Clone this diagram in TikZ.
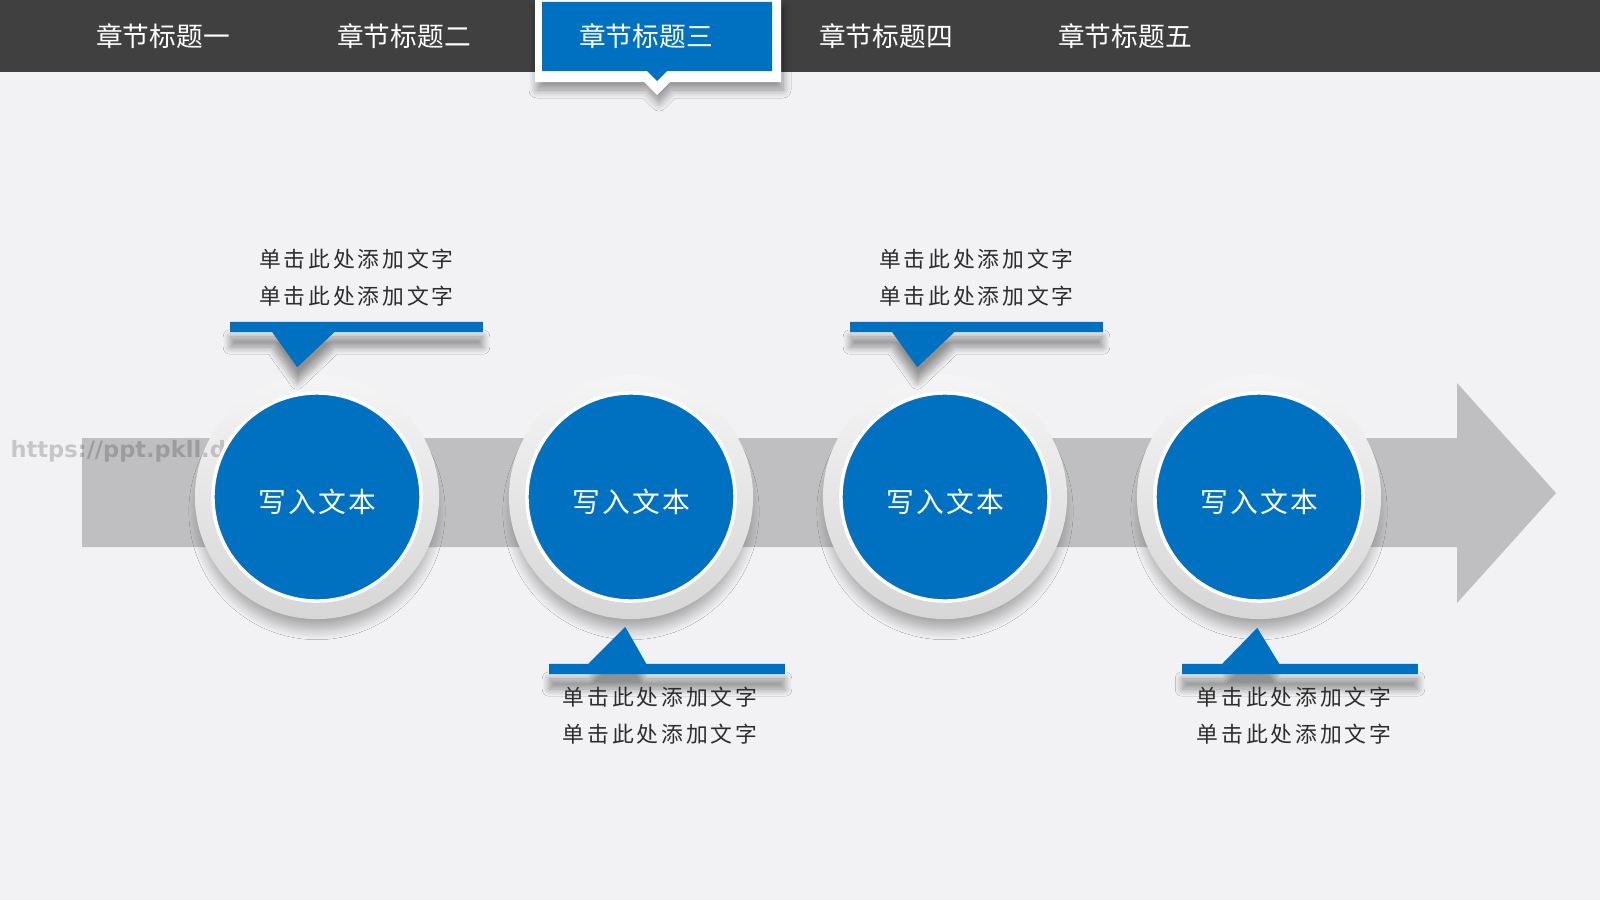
\documentclass[tikz,border=0pt]{standalone}
\usepackage{fontspec}
\usepackage{xcolor}
\usepackage{tikz}
\usetikzlibrary{positioning, calc, shadows.blur}
\newfontfamily\cjkfont{Noto Sans CJK SC}
\newfontfamily\cjkspaced[LetterSpace=13]{Noto Sans CJK SC}
\newfontfamily\cjkcircle[LetterSpace=8]{Noto Sans CJK SC}
\newfontfamily\wmfont{DejaVu Sans}
\definecolor{topbar}{RGB}{64,64,64}
\definecolor{stepblue}{RGB}{0,112,192}
\definecolor{arrowgray}{RGB}{191,191,193}
\definecolor{pagebg}{RGB}{242,242,244}
\definecolor{labeltext}{RGB}{45,45,45}

\begin{document}
\begin{tikzpicture}[
    x=0.01cm, y=-0.01cm,
    tablabel/.style={text=white, inner sep=0, font=\cjkfont\fontsize{7.6}{9}\selectfont},
    halo/.style={circle, minimum size=2.44cm, inner sep=0, top color=black!4, bottom color=black!16,
        blur shadow={shadow xshift=0cm, shadow yshift=-0.15cm, shadow scale=0.97, shadow blur radius=0.1cm,
        shadow blur steps=12, shadow opacity=30}},
    stepcircle/.style={circle, minimum size=2.08cm, inner sep=0, fill=stepblue, draw=white, line width=0.035cm},
    circletext/.style={text=white, inner sep=0, yshift=-0.05cm, font=\cjkcircle\fontsize{7.9}{10}\selectfont},
    calloutbar/.style={rectangle, inner sep=0, fill=stepblue, minimum height=0.09cm},
    callouttext/.style={align=center, inner sep=0, text=labeltext, font=\cjkspaced\fontsize{6.2}{10.5}\selectfont},
    barshadow/.style={blur shadow={shadow xshift=0cm, shadow yshift=-0.15cm, shadow blur radius=0.07cm,
        shadow blur steps=12, shadow opacity=40}},
    wmark/.style={inner sep=0, text=black, text opacity=0.18, font=\wmfont\bfseries\fontsize{6.4}{8}\selectfont}
]
\useasboundingbox (0,0) rectangle (1600,900);
\fill[pagebg] (0,0) rectangle (1600,900);
\fill[topbar] (0,0) rectangle (1600,72);

\node[tablabel] (tab1) at (163,36) {章节标题一};
\node[tablabel] (tab2) at (404,36) {章节标题二};
\node[tablabel] (tab4) at (886,36) {章节标题四};
\node[tablabel] (tab5) at (1125,36) {章节标题五};

\fill[white, blur shadow={shadow xshift=0.02cm, shadow yshift=-0.08cm, shadow blur radius=0.08cm,
    shadow blur steps=10, shadow opacity=40}]
  (535,0) -- (781,0) -- (781,82) -- (670,82) -- (657,95) -- (644,82) -- (535,82) -- cycle;
\fill[stepblue] (542,2) -- (772,2) -- (772,71) -- (667,71) -- (657,81) -- (647,71) -- (542,71) -- cycle;
\node[tablabel] (tab3) at (646,36) {章节标题三};

\fill[arrowgray] (82,438) -- (1457,438) -- (1457,383) -- (1556,493) -- (1457,603) -- (1457,547) -- (82,547) -- cycle;

\node[halo] (h1) at (317,497) {};
\node[halo] (h2) at (631,497) {};
\node[halo] (h3) at (945,497) {};
\node[halo] (h4) at (1259,497) {};

\node[wmark, anchor=base west] (wm) at (10,457) {https://ppt.pkll.de};

\node[stepcircle, label={[circletext]center:写入文本}] (c1) at (317,497) {};
\node[stepcircle, label={[circletext]center:写入文本}] (c2) at (631,497) {};
\node[stepcircle, label={[circletext]center:写入文本}] (c3) at (945,497) {};
\node[stepcircle, label={[circletext]center:写入文本}] (c4) at (1259,497) {};

\node[calloutbar, minimum width=2.51cm] (b1) at (356.5,327) {};
\fill[stepblue, barshadow] (b1.north west) -- (b1.north east) -- (b1.south east) -- ($(b1.south west)+(104,0)$)
  -- ($(b1.south west)+(67,35)$) -- ($(b1.south west)+(42,0)$) -- (b1.south west) -- cycle;
\node[callouttext, above=0.15cm of b1] (t1) {单击此处添加文字\\单击此处添加文字};

\node[calloutbar, minimum width=2.51cm] (b2) at (976.5,327) {};
\fill[stepblue, barshadow] (b2.north west) -- (b2.north east) -- (b2.south east) -- ($(b2.south west)+(104,0)$)
  -- ($(b2.south west)+(67,35)$) -- ($(b2.south west)+(42,0)$) -- (b2.south west) -- cycle;
\node[callouttext, above=0.15cm of b2] (t2) {单击此处添加文字\\单击此处添加文字};

\node[calloutbar, minimum width=2.34cm] (b3) at (667,669) {};
\fill[stepblue, barshadow] (b3.south west) -- (b3.north west) -- ($(b3.north west)+(39,0)$) -- ($(b3.north west)+(76,-37)$)
  -- ($(b3.north west)+(97,0)$) -- (b3.north east) -- (b3.south east) -- cycle;
\node[callouttext, below=0.12cm of b3, xshift=-0.07cm] (t3) {单击此处添加文字\\单击此处添加文字};

\node[calloutbar, minimum width=2.34cm] (b4) at (1300,669) {};
\fill[stepblue, barshadow] (b4.south west) -- (b4.north west) -- ($(b4.north west)+(40,0)$) -- ($(b4.north west)+(75,-36)$)
  -- ($(b4.north west)+(97,0)$) -- (b4.north east) -- (b4.south east) -- cycle;
\node[callouttext, below=0.12cm of b4, xshift=-0.06cm] (t4) {单击此处添加文字\\单击此处添加文字};

\end{tikzpicture}
\end{document}
